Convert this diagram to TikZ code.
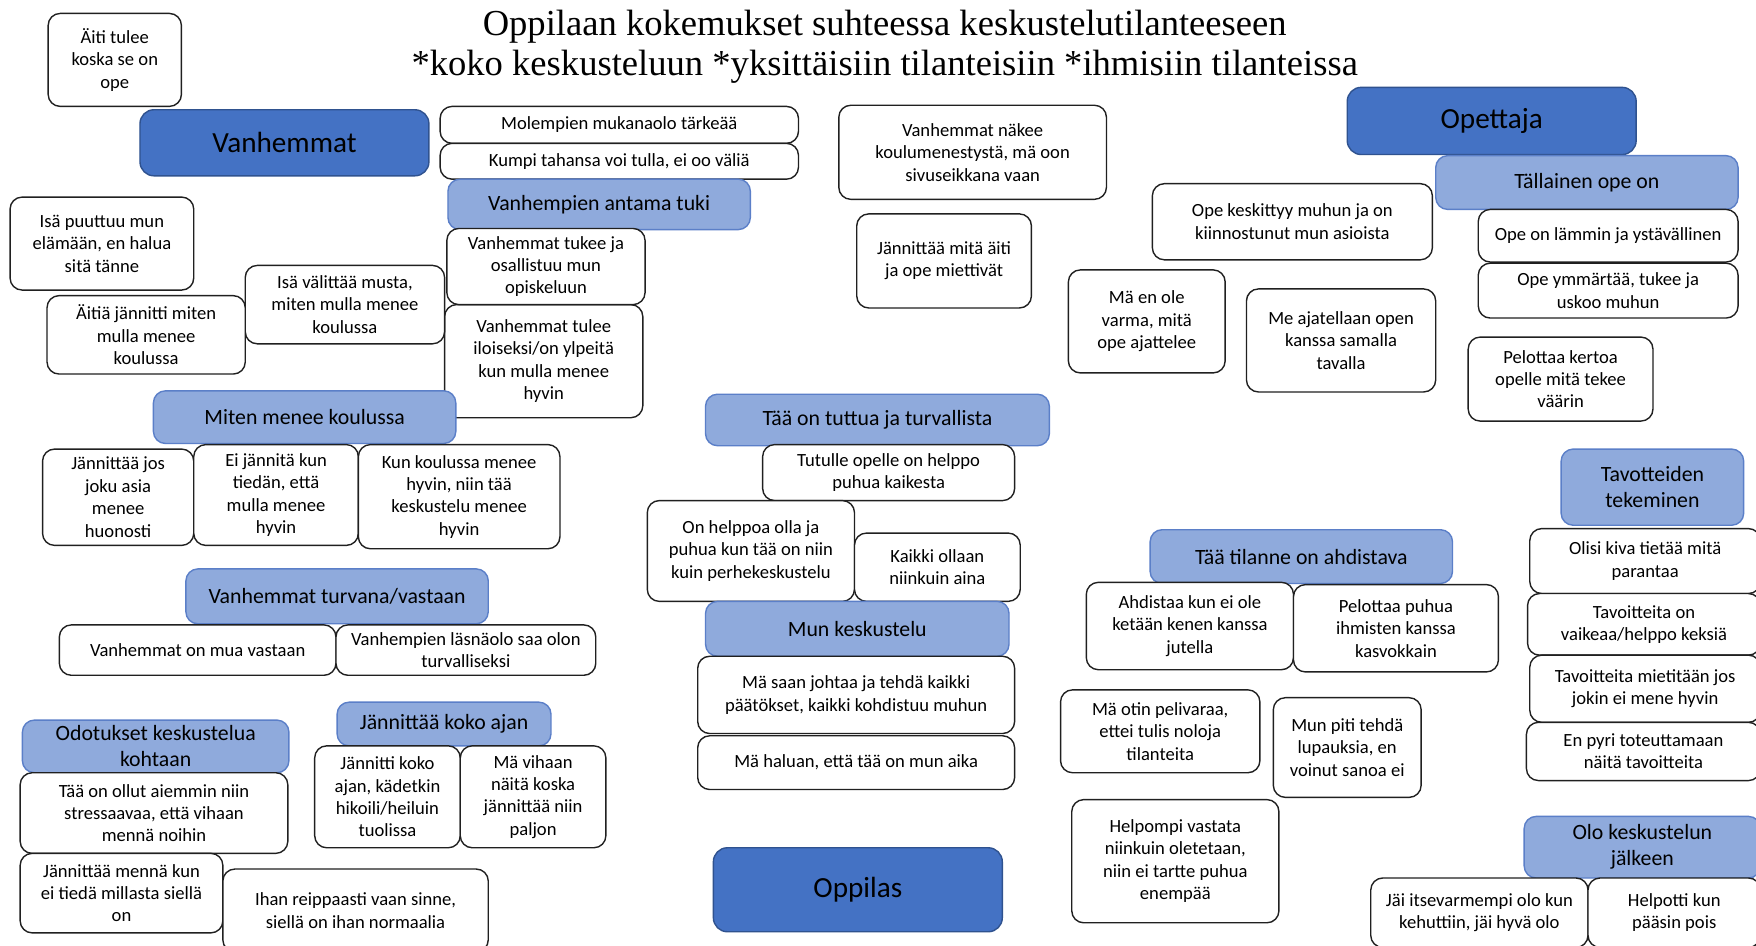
\documentclass[tikz,border=0pt]{standalone}
\usepackage{fontspec}
\setmainfont{Carlito}
\newfontfamily\titlefont{Liberation Serif}
\definecolor{darkblue}{HTML}{4472C4}
\definecolor{darkedge}{HTML}{2F528F}
\definecolor{lightblue}{HTML}{8FAADC}
\definecolor{lightedge}{HTML}{5B7FC8}
\definecolor{boxedge}{HTML}{202020}
\tikzset{
  wbox/.style={draw=boxedge, line width=0.7pt, fill=white, rounded corners=6pt,
    align=center, inner sep=1pt, font=\fontsize{9.3}{11.2}\selectfont},
  hbox/.style={draw=lightedge, line width=0.7pt, fill=lightblue, rounded corners=6pt,
    align=center, inner sep=1pt, font=\fontsize{10.9}{13}\selectfont},
  mbox/.style={draw=darkedge, line width=0.7pt, fill=darkblue, rounded corners=7pt,
    align=center, inner sep=1pt, font=\fontsize{14.6}{16}\selectfont},
  titletext/.style={align=center, font=\titlefont\fontsize{18.3}{20}\selectfont}
}
% \bx[style]{name}{x1}{y1}{x2}{y2}{text}: a box filling the given rectangle
\newcommand\bx[7][wbox]{%
  \pgfmathsetmacro\bw{(#5-#3)*0.56}%
  \pgfmathsetmacro\bh{(#6-#4)*0.56}%
  \node[#1, minimum width=\bw pt, minimum height=\bh pt] (#2) at ({(#3+#5)/2},{(#4+#6)/2}) {#7};}
\begin{document}
\begin{tikzpicture}[x=0.56pt, y=-0.56pt]
\useasboundingbox (0,0) rectangle (1568,844);
\fill[white] (0,0) rectangle (1568,844);

\node[titletext] (title) at (790,42) {Oppilaan kokemukset suhteessa keskustelutilanteeseen\\*koko keskusteluun *yksittäisiin tilanteisiin *ihmisiin tilanteissa};

% Vanhemmat
\bx{aiti}{43}{12}{162}{95}{Äiti tulee\\koska se on\\ope}
\bx[mbox]{vanhemmat}{125}{98}{383}{157}{Vanhemmat}
\bx{molempien}{393}{95}{713}{128}{Molempien mukanaolo tärkeää}
\bx{kumpi}{393}{128}{713}{160}{Kumpi tahansa voi tulla, ei oo väliä}
\bx[hbox]{tuki}{400}{160}{670}{205}{Vanhempien antama tuki}
\bx{isapuuttuu}{9}{176}{173}{259}{Isä puuttuu mun\\elämään, en halua\\sitä tänne}
\bx{iloiseksi}{397}{272}{574}{373}{Vanhemmat tulee\\iloiseksi/on ylpeitä\\kun mulla menee\\hyvin}
\bx{tukee}{399}{204}{576}{272}{Vanhemmat tukee ja\\osallistuu mun\\opiskeluun}
\bx{isavalittaa}{219}{237}{397}{307}{Isä välittää musta,\\miten mulla menee\\koulussa}
\bx{aitia}{42}{264}{219}{334}{Äitiä jännitti miten\\mulla menee\\koulussa}
\bx[hbox]{miten}{137}{349}{407}{396}{Miten menee koulussa}
\bx{jos}{38}{401}{173}{487}{Jännittää jos\\joku asia\\menee\\huonosti}
\bx{eijannita}{173}{397}{320}{487}{Ei jännitä kun\\tiedän, että\\mulla menee\\hyvin}
\bx{kunkoulussa}{320}{397}{500}{490}{Kun koulussa menee\\hyvin, niin tää\\keskustelu menee\\hyvin}
\bx[hbox]{turvana}{166}{508}{436}{557}{Vanhemmat turvana/vastaan}
\bx{vastaan}{53}{558}{300}{603}{Vanhemmat on mua vastaan}
\bx{lasnaolo}{300}{558}{532}{603}{Vanhempien läsnäolo saa olon\\turvalliseksi}
\bx[hbox]{odotukset}{20}{643}{258}{690}{Odotukset keskustelua\\kohtaan}
\bx{stressaavaa}{18}{690}{257}{762}{Tää on ollut aiemmin niin\\stressaavaa, että vihaan\\mennä noihin}
\bx{jannittaamenna}{18}{762}{199}{833}{Jännittää mennä kun\\ei tiedä millasta siellä\\on}
\bx{reippaasti}{199}{776}{436}{850}{Ihan reippaasti vaan sinne,\\siellä on ihan normaalia}
\bx[hbox]{kokoajan}{301}{627}{492}{666}{Jännittää koko ajan}
\bx{jannitti}{281}{666}{411}{757}{Jännitti koko\\ajan, kädetkin\\hikoili/heiluin\\tuolissa}
\bx{vihaan}{411}{666}{541}{757}{Mä vihaan\\näitä koska\\jännittää niin\\paljon}

% Keskellä
\bx{nakee}{749}{94}{988}{178}{Vanhemmat näkee\\koulumenestystä, mä oon\\sivuseikkana vaan}
\bx{miettivat}{765}{191}{921}{275}{Jännittää mitä äiti\\ja ope miettivät}
\bx[hbox]{tuttua}{630}{352}{937}{398}{Tää on tuttua ja turvallista}
\bx{tutulle}{681}{397}{906}{447}{Tutulle opelle on helppo\\puhua kaikesta}
\bx{helppoa}{578}{447}{763}{537}{On helppoa olla ja\\puhua kun tää on niin\\kuin perhekeskustelu}
\bx{kaikki}{763}{476}{911}{537}{Kaikki ollaan\\niinkuin aina}
\bx[hbox]{munkesk}{630}{537}{901}{586}{Mun keskustelu}
\bx{johtaa}{623}{586}{906}{655}{Mä saan johtaa ja tehdä kaikki\\päätökset, kaikki kohdistuu muhun}
\bx{munaika}{623}{657}{906}{705}{Mä haluan, että tää on mun aika}
\bx[mbox]{oppilas}{637}{757}{895}{832}{Oppilas}

% Opettaja
\bx[mbox]{opettaja}{1203}{78}{1461}{138}{Opettaja}
\bx[hbox]{tallainen}{1282}{139}{1552}{187}{Tällainen ope on}
\bx{lammin}{1320}{187}{1552}{234}{Ope on lämmin ja ystävällinen}
\bx{ymmartaa}{1320}{235}{1552}{284}{Ope ymmärtää, tukee ja\\uskoo muhun}
\bx{keskittyy}{1029}{164}{1279}{232}{Ope keskittyy muhun ja on\\kiinnostunut mun asioista}
\bx{envarma}{954}{241}{1094}{333}{Mä en ole\\varma, mitä\\ope ajattelee}
\bx{samalla}{1113}{258}{1282}{350}{Me ajatellaan open\\kanssa samalla\\tavalla}
\bx{pelottaakertoa}{1311}{301}{1476}{376}{Pelottaa kertoa\\opelle mitä tekee\\väärin}

% Tavoitteet
\bx[hbox]{tavotteet}{1394}{401}{1557}{469}{Tavotteiden\\tekeminen}
\bx{olisikiva}{1366}{472}{1572}{530}{Olisi kiva tietää mitä\\parantaa}
\bx{vaikeaa}{1364}{530}{1572}{585}{Tavoitteita on\\vaikeaa/helppo keksiä}
\bx{mietitaan}{1366}{585}{1572}{645}{Tavoitteita mietitään jos\\jokin ei mene hyvin}
\bx{enpyri}{1363}{645}{1572}{697}{En pyri toteuttamaan\\näitä tavoitteita}

% Ahdistus
\bx[hbox]{ahdistava}{1027}{473}{1297}{521}{Tää tilanne on ahdistava}
\bx{ahdistaa}{970}{520}{1155}{598}{Ahdistaa kun ei ole\\ketään kenen kanssa\\jutella}
\bx{pelottaapuhua}{1155}{522}{1338}{600}{Pelottaa puhua\\ihmisten kanssa\\kasvokkain}
\bx{pelivaraa}{947}{616}{1125}{690}{Mä otin pelivaraa,\\ettei tulis noloja\\tilanteita}
\bx{lupauksia}{1137}{623}{1269}{712}{Mun piti tehdä\\lupauksia, en\\voinut sanoa ei}
\bx{helpompi}{957}{714}{1142}{824}{Helpompi vastata\\niinkuin oletetaan,\\niin ei tartte puhua\\enempää}

% Jälkeen
\bx[hbox]{olo}{1361}{729}{1572}{784}{Olo keskustelun\\jälkeen}
\bx{itsevarmempi}{1224}{784}{1418}{846}{Jäi itsevarmempi olo kun\\kehuttiin, jäi hyvä olo}
\bx{helpotti}{1418}{784}{1572}{846}{Helpotti kun\\pääsin pois}
\end{tikzpicture}
\end{document}
